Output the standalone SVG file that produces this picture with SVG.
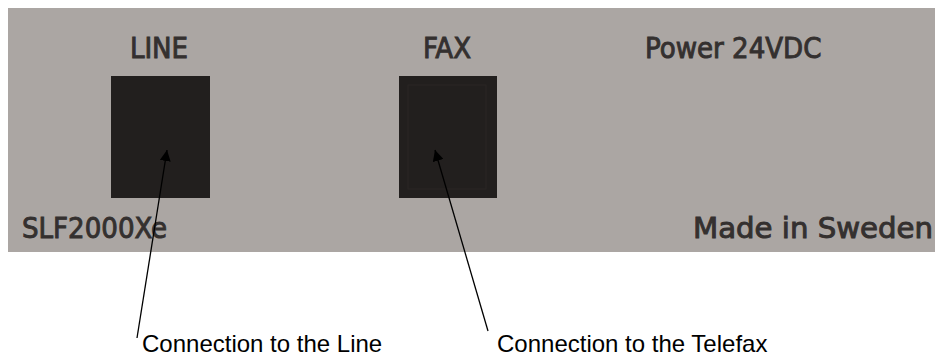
<svg xmlns="http://www.w3.org/2000/svg" width="935" height="361" viewBox="0 0 935 361">
<style>
.lbl{font-family:"DejaVu Sans Condensed","DejaVu Sans",sans-serif;font-stretch:condensed;font-size:29px;fill:#34302f;stroke:#34302f;stroke-width:0.9}
.cap{font-family:"Liberation Sans",Arial,sans-serif;font-size:24px;fill:#000}
.port{fill:#221f1e}
.conn{stroke:#000;stroke-width:1.3;fill:none}
</style>
<defs>
<marker id="ah" viewBox="0 0 10 10" refX="10" refY="5" markerWidth="11" markerHeight="11" markerUnits="userSpaceOnUse" orient="auto">
<path d="M0,0 L10,5 L0,10 z" fill="#000"/>
</marker>
</defs>
<rect width="935" height="361" fill="#fff"/>
<g id="panel">
<rect x="8" y="8" width="927" height="244" fill="#aba6a3"/>
<text class="lbl" x="159" y="58" text-anchor="middle">LINE</text>
<text class="lbl" x="447" y="58" text-anchor="middle">FAX</text>
<text class="lbl" x="645" y="58">Power 24VDC</text>
<text class="lbl" x="22" y="238">SLF2000Xe</text>
<text class="lbl" x="693" y="238" textLength="240" lengthAdjust="spacingAndGlyphs">Made in Sweden</text>
</g>
<g id="line-port">
<rect class="port" x="111" y="76" width="99" height="122"/>
</g>
<g id="fax-port">
<rect class="port" x="399" y="76" width="98" height="122"/>
<rect x="408" y="85" width="78" height="104" fill="none" stroke="#2a2725" stroke-width="1"/>
</g>
<g id="connectors">
<line class="conn" x1="137" y1="338" x2="167" y2="150" marker-end="url(#ah)"/>
<line class="conn" x1="488" y1="331" x2="435" y2="150" marker-end="url(#ah)"/>
</g>
<g id="captions">
<text class="cap" x="142" y="352">Connection to the Line</text>
<text class="cap" x="497" y="352">Connection to the Telefax</text>
</g>
</svg>
